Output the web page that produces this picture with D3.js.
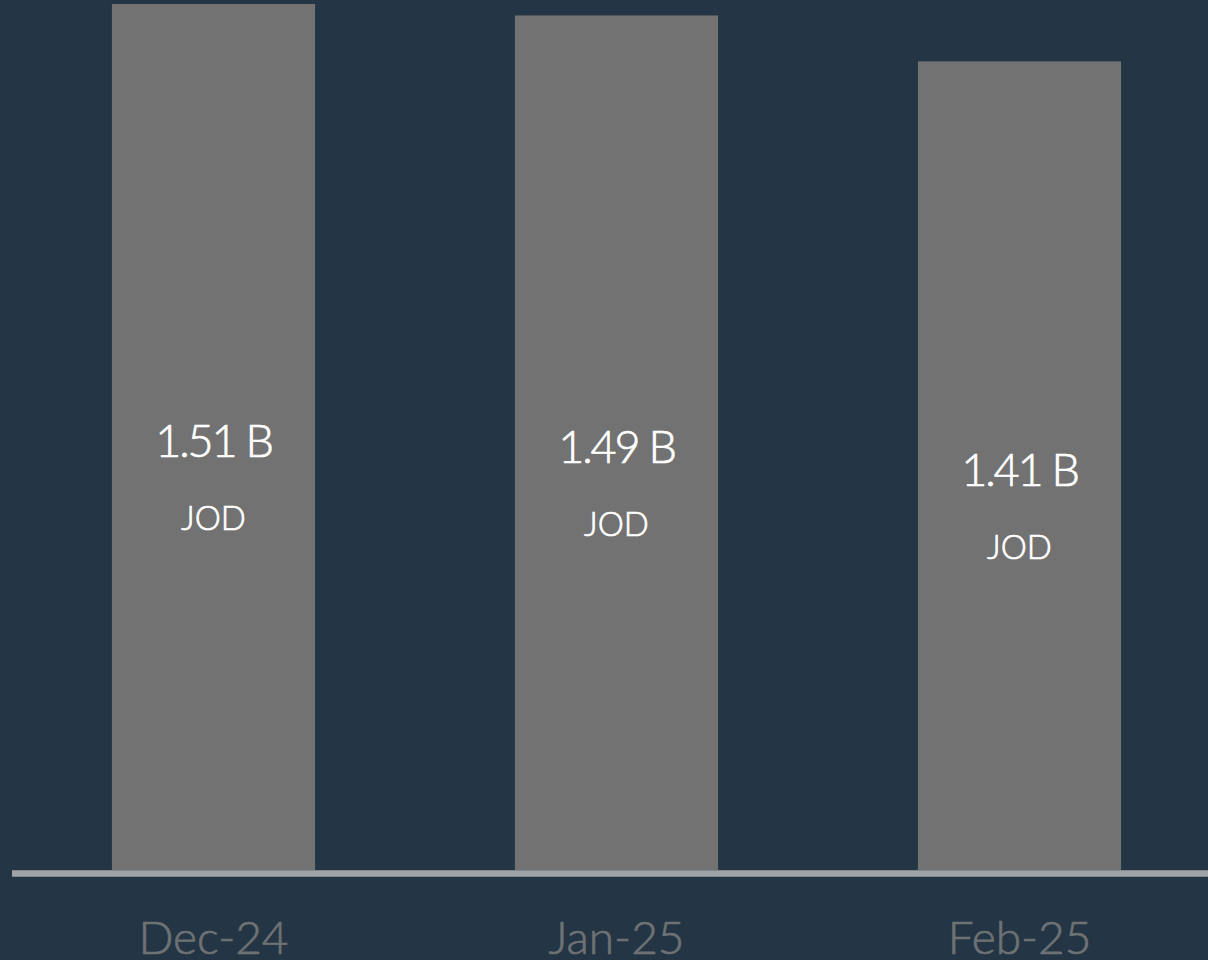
<!DOCTYPE html>
<html>
<head>
<meta charset="utf-8">
<script src="https://cdn.jsdelivr.net/npm/d3@7"></script>
<style>
  html, body { margin: 0; padding: 0; background: #243646; overflow: hidden; }
  svg { display: block; }
</style>
</head>
<body>
<svg id="chart" width="1208" height="960"></svg>
<script>
// Monthly totals, in billions of Jordanian dinars
const months = ["Dec-24", "Jan-25", "Feb-25"];
const totals = [1.51, 1.49, 1.41];
const unitLabel = "JOD";

const W = 1208, H = 960;
const baseY = 870;

const svg = d3.select("#chart");
svg.append("rect").attr("width", W).attr("height", H).attr("fill", "#243646");

const x = d3.scaleBand()
  .domain(months)
  .range([12, 1221])
  .paddingInner(0.496)
  .paddingOuter(0.248);

const y = d3.scaleLinear()
  .domain([0, d3.max(totals)])
  .range([baseY, 4]);

const rows = months.map((m, i) => ({ month: m, value: totals[i] }));

// Bars
svg.append("g").selectAll("rect")
  .data(rows)
  .join("rect")
  .attr("x", d => x(d.month))
  .attr("y", d => y(d.value))
  .attr("width", x.bandwidth())
  .attr("height", d => baseY - y(d.value))
  .attr("fill", "#717271");

// Value labels centred in each bar
const labels = svg.append("g")
  .attr("font-family", "Lato, 'Open Sans', sans-serif")
  .attr("font-weight", 300)
  .attr("fill", "#ffffff")
  .attr("stroke", "#ffffff")
  .attr("stroke-width", 0.7)
  .attr("text-anchor", "middle");

labels.selectAll("text.value")
  .data(rows)
  .join("text")
  .attr("class", "value")
  .attr("x", d => x(d.month) + x.bandwidth() / 2)
  .attr("y", d => (y(d.value) + baseY) / 2 + 20)
  .attr("font-size", 45)
  .attr("letter-spacing", -2.2)
  .text(d => d3.format(".2f")(d.value) + " B");

labels.selectAll("text.unit")
  .data(rows)
  .join("text")
  .attr("class", "unit")
  .attr("x", d => x(d.month) + x.bandwidth() / 2)
  .attr("y", d => (y(d.value) + baseY) / 2 + 93)
  .attr("font-size", 33)
  .text(unitLabel);

// Baseline and month labels
const axis = d3.axisBottom(x).tickSize(0).tickPadding(0);
const gx = svg.append("g")
  .attr("transform", `translate(0,${baseY + 3.5})`)
  .call(axis);
gx.select(".domain")
  .attr("d", `M12,0H${W}`)
  .attr("stroke", "#a0a4a7")
  .attr("stroke-width", 6.5);
gx.selectAll(".tick text")
  .attr("dy", null)
  .attr("y", 80)
  .attr("fill", "#6e7273")
  .attr("stroke", "#6e7273")
  .attr("stroke-width", 0.7)
  .attr("font-family", "Lato, 'Open Sans', sans-serif")
  .attr("font-weight", 300)
  .attr("font-size", 46);
</script>
</body>
</html>
